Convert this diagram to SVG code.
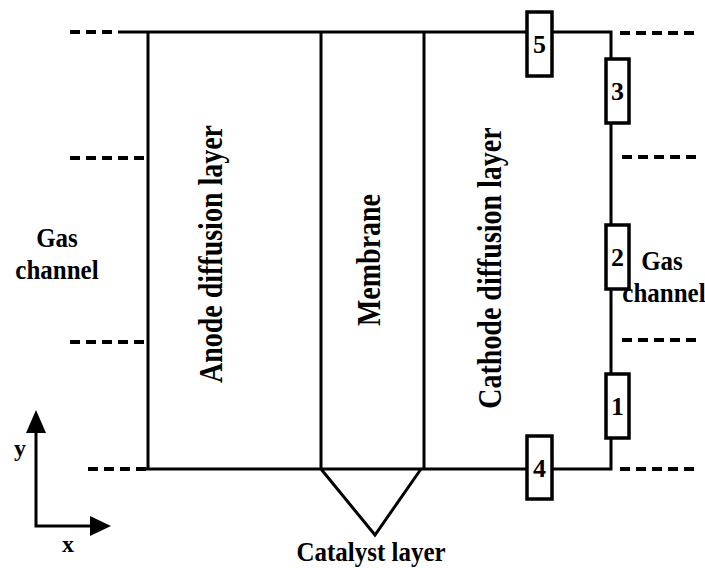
<svg xmlns="http://www.w3.org/2000/svg" width="705" height="568" viewBox="0 0 705 568">
<style>
.ln{stroke:#000;stroke-width:3;fill:none}
.dash{stroke:#000;stroke-width:4;fill:none;stroke-dasharray:10 6}
.box{stroke:#000;stroke-width:3.5;fill:#fff}
.t{font-family:"Liberation Serif","Times New Roman",serif;font-weight:bold;fill:#000}
.num{font-size:26px;text-anchor:middle}
.lab{font-size:28px;text-anchor:middle}
.gc{font-size:25px;text-anchor:middle}
</style>
<rect width="705" height="568" fill="#fff"/>
<g id="connectors">
<path class="dash" d="M70 32H118"/>
<path class="dash" d="M70 158H148"/>
<path class="dash" d="M70 342H148"/>
<path class="dash" d="M88 469H146"/>
<path class="dash" d="M620 33H700"/>
<path class="dash" d="M622 157H700"/>
<path class="dash" d="M622 340H700"/>
<path class="dash" d="M620 469H700"/>
<path class="ln" d="M118 32H611V469H146"/>
<path class="ln" d="M148 32V469"/>
<path class="ln" d="M321 32V469"/>
<path class="ln" d="M424 32V469"/>
</g>
<g id="catalyst">
<path class="ln" d="M321 469L375 535L421 469"/>
<text class="t" font-size="25" text-anchor="middle" transform="translate(371 561) scale(1 1.12)">Catalyst layer</text>
</g>
<g id="anode"><text class="t lab" transform="translate(222 254) rotate(-90) scale(1 1.2)">Anode diffusion layer</text></g>
<g id="membrane"><text class="t lab" transform="translate(380 260) rotate(-90) scale(1 1.2)">Membrane</text></g>
<g id="cathode"><text class="t lab" transform="translate(501 268) rotate(-90) scale(1 1.2)">Cathode diffusion layer</text></g>
<g id="gas-left"><text class="t gc" transform="translate(57 247) scale(1 1.12)">Gas</text><text class="t gc" transform="translate(57 279) scale(1 1.12)">channel</text></g>
<g id="gas-right"><text class="t gc" transform="translate(662 270) scale(1 1.12)">Gas</text><text class="t gc" transform="translate(664 302) scale(1 1.12)">channel</text></g>
<g id="r5"><rect class="box" x="527" y="12" width="25" height="64"/><text class="t num" x="539.5" y="53">5</text></g>
<g id="r4"><rect class="box" x="527" y="436" width="25" height="63"/><text class="t num" x="539.5" y="477">4</text></g>
<g id="r3"><rect class="box" x="606" y="59" width="23" height="64"/><text class="t num" x="617.5" y="100">3</text></g>
<g id="r2"><rect class="box" x="606" y="225" width="23" height="64"/><text class="t num" x="617.5" y="266">2</text></g>
<g id="r1"><rect class="box" x="606" y="374" width="23" height="64"/><text class="t num" x="617.5" y="415">1</text></g>
<g id="axes">
<path class="ln" d="M36 432V526H90"/>
<path d="M36 410L26 433H46Z M111 526L90 516V536Z" fill="#000"/>
<text class="t" x="20" y="456" font-size="24" text-anchor="middle">y</text>
<text class="t" x="68" y="552" font-size="24" text-anchor="middle">x</text>
</g>
</svg>
